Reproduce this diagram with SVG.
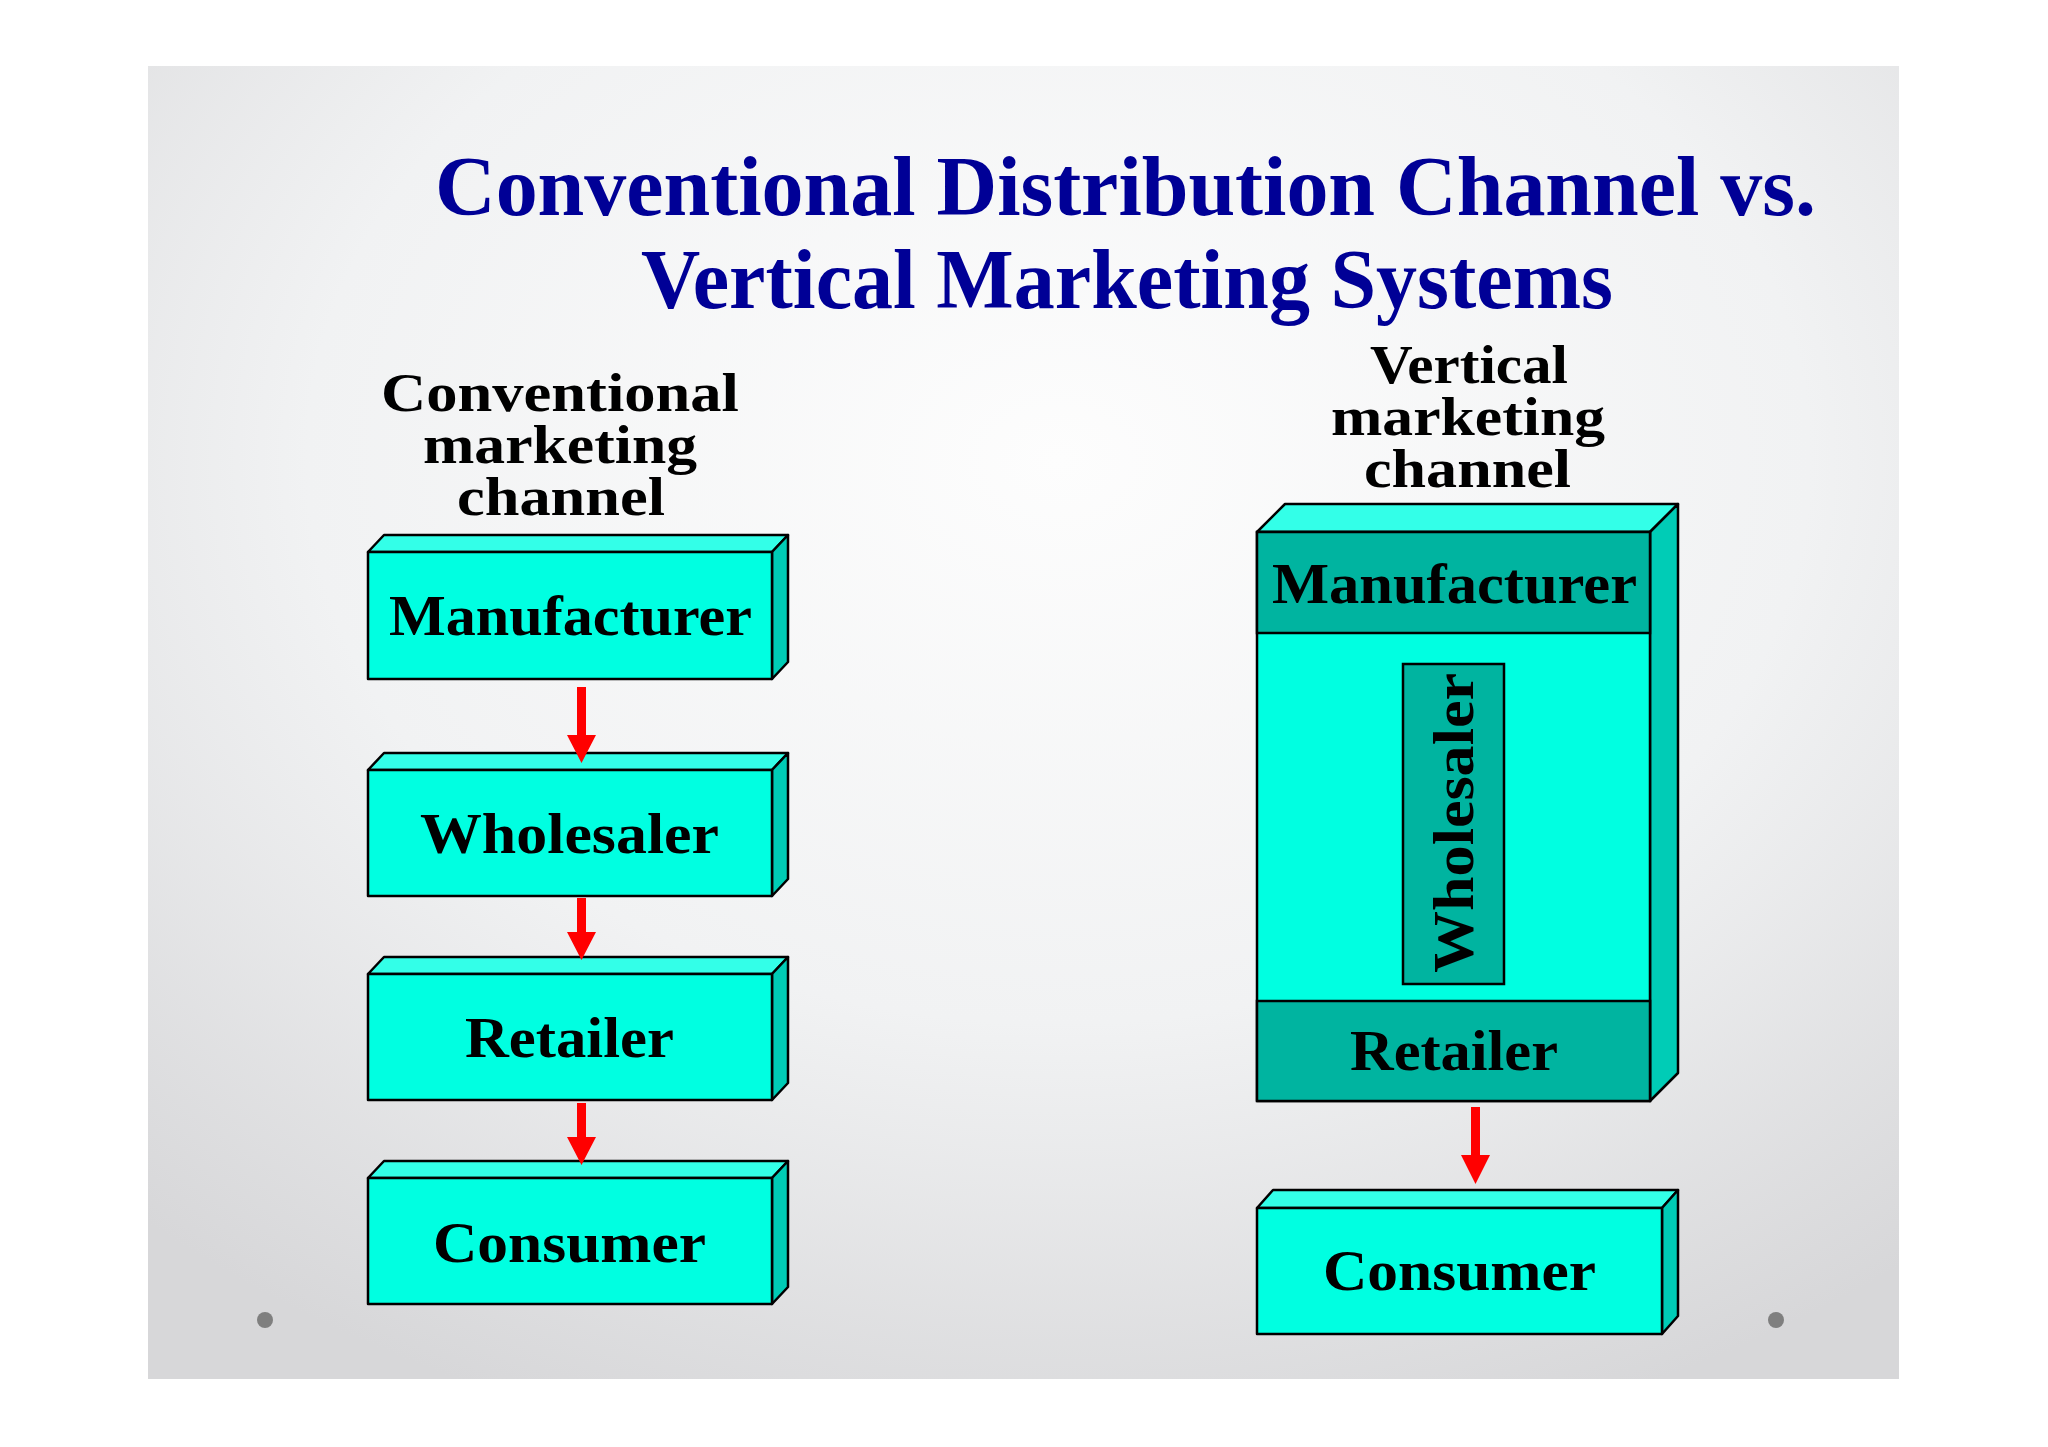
<svg xmlns="http://www.w3.org/2000/svg" width="2048" height="1447" viewBox="0 0 2048 1447">
<defs>
<radialGradient id="bg" cx="0.52" cy="0.3" r="0.78" gradientUnits="objectBoundingBox">
<stop offset="0" stop-color="#fdfdfd"/>
<stop offset="0.55" stop-color="#f1f2f3"/>
<stop offset="1" stop-color="#d7d7d9"/>
</radialGradient>
<style>
.front{fill:#00FFE1;stroke:#000;stroke-width:2.5;stroke-linejoin:round}
.top{fill:#33FFE8;stroke:#000;stroke-width:2.5;stroke-linejoin:round}
.side{fill:#00CCB6;stroke:#000;stroke-width:2.5;stroke-linejoin:round}
.band{fill:#00B4A0;stroke:#000;stroke-width:2.5}
.lbl{font-family:"Liberation Serif","Times New Roman",serif;font-weight:bold;font-size:56px;fill:#000}
.hdr{font-family:"Liberation Serif","Times New Roman",serif;font-weight:bold;font-size:54px;fill:#000}
.ttl{font-family:"Liberation Serif","Times New Roman",serif;font-weight:bold;font-size:84px;fill:#000096}
.arr{fill:#FF0000}
</style>
</defs>
<rect x="0" y="0" width="2048" height="1447" fill="#ffffff"/>
<rect x="148" y="66" width="1751" height="1313" fill="url(#bg)"/>
<circle cx="265" cy="1320" r="8" fill="#7f7f7f"/>
<circle cx="1776" cy="1320" r="8" fill="#7f7f7f"/>

<g id="title">
<text class="ttl" x="435" y="215" textLength="1381" lengthAdjust="spacingAndGlyphs">Conventional Distribution Channel vs.</text>
<text class="ttl" x="641" y="308" textLength="972" lengthAdjust="spacingAndGlyphs">Vertical Marketing Systems</text>
</g>

<g id="label-conventional">
<text class="hdr" x="381" y="411" textLength="358" lengthAdjust="spacingAndGlyphs">Conventional</text>
<text class="hdr" x="423" y="463" textLength="274" lengthAdjust="spacingAndGlyphs">marketing</text>
<text class="hdr" x="457" y="515" textLength="208" lengthAdjust="spacingAndGlyphs">channel</text>
</g>

<g id="label-vertical">
<text class="hdr" x="1370" y="383" textLength="198" lengthAdjust="spacingAndGlyphs">Vertical</text>
<text class="hdr" x="1331" y="435" textLength="274" lengthAdjust="spacingAndGlyphs">marketing</text>
<text class="hdr" x="1364" y="487" textLength="207" lengthAdjust="spacingAndGlyphs">channel</text>
</g>

<g id="c-manufacturer">
<polygon class="top" points="368,552 384,535 788,535 772,552"/>
<polygon class="side" points="772,552 788,535 788,662 772,679"/>
<rect class="front" x="368" y="552" width="404" height="127"/>
<text class="lbl" x="389" y="635" textLength="363" lengthAdjust="spacingAndGlyphs">Manufacturer</text>
</g>

<g id="c-wholesaler">
<polygon class="top" points="368,770 384,753 788,753 772,770"/>
<polygon class="side" points="772,770 788,753 788,879 772,896"/>
<rect class="front" x="368" y="770" width="404" height="126"/>
<text class="lbl" x="420" y="853" textLength="299" lengthAdjust="spacingAndGlyphs">Wholesaler</text>
</g>

<g id="c-retailer">
<polygon class="top" points="368,974 384,957 788,957 772,974"/>
<polygon class="side" points="772,974 788,957 788,1083 772,1100"/>
<rect class="front" x="368" y="974" width="404" height="126"/>
<text class="lbl" x="465" y="1057" textLength="209" lengthAdjust="spacingAndGlyphs">Retailer</text>
</g>

<g id="c-consumer">
<polygon class="top" points="368,1178 384,1161 788,1161 772,1178"/>
<polygon class="side" points="772,1178 788,1161 788,1287 772,1304"/>
<rect class="front" x="368" y="1178" width="404" height="126"/>
<text class="lbl" x="433" y="1262" textLength="273" lengthAdjust="spacingAndGlyphs">Consumer</text>
</g>

<g id="v-system">
<polygon class="top" points="1257,532 1285,504 1678,504 1650,532"/>
<polygon class="side" points="1650,532 1678,504 1678,1073 1650,1101"/>
<rect class="front" x="1257" y="532" width="393" height="569"/>
<g id="v-manufacturer">
<rect class="band" x="1257" y="532" width="393" height="101"/>
<text class="lbl" x="1272" y="603" textLength="365" lengthAdjust="spacingAndGlyphs">Manufacturer</text>
</g>
<g id="v-wholesaler">
<rect class="band" x="1403" y="664" width="101" height="320"/>
<text class="lbl" transform="translate(1473,973) rotate(-90)" x="0" y="0" textLength="300" lengthAdjust="spacingAndGlyphs">Wholesaler</text>
</g>
<g id="v-retailer">
<rect class="band" x="1257" y="1001" width="393" height="100"/>
<text class="lbl" x="1350" y="1070" textLength="208" lengthAdjust="spacingAndGlyphs">Retailer</text>
</g>
</g>

<g id="v-consumer">
<polygon class="top" points="1257,1208 1273,1190 1678,1190 1662,1208"/>
<polygon class="side" points="1662,1208 1678,1190 1678,1316 1662,1334"/>
<rect class="front" x="1257" y="1208" width="405" height="126"/>
<text class="lbl" x="1323" y="1290" textLength="273" lengthAdjust="spacingAndGlyphs">Consumer</text>
</g>

<g id="connectors">
<polygon class="arr" points="577,687 586,687 586,735 596,735 581.5,763 567,735 577,735"/>
<polygon class="arr" points="577,898 586,898 586,932 596,932 581.5,960 567,932 577,932"/>
<polygon class="arr" points="577,1103 586,1103 586,1137 596,1137 581.5,1165 567,1137 577,1137"/>
<polygon class="arr" points="1471,1107 1480,1107 1480,1155 1490,1155 1475.5,1184 1461,1155 1471,1155"/>
</g>
</svg>
